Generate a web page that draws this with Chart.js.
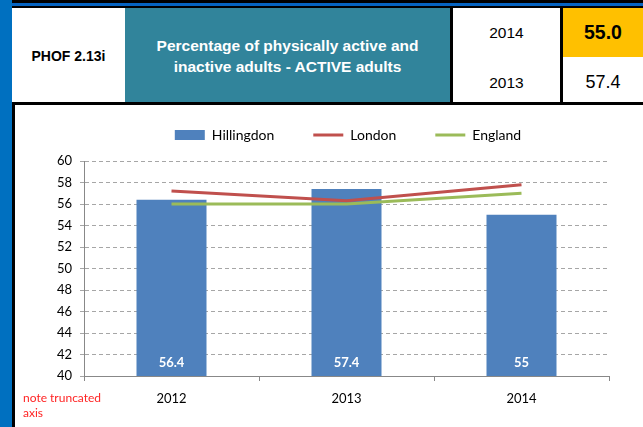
<!DOCTYPE html>
<html>
<head>
<meta charset="utf-8">
<script src="https://cdn.jsdelivr.net/npm/chart.js@4"></script>
<style>
  html, body { margin: 0; padding: 0; }
  body { width: 643px; height: 427px; position: relative; overflow: hidden; background: #fff; font-family: "Liberation Sans", Arial, sans-serif; }
  .abs { position: absolute; box-sizing: border-box; }
  .cell { display: flex; align-items: center; justify-content: center; text-align: center; }
</style>
</head>
<body>
<!-- page frame -->
<div class="abs" style="left:0;top:0;width:12px;height:427px;background:#0070C0"></div>
<div class="abs" style="left:12px;top:0;width:631px;height:3px;background:#000"></div>
<div class="abs" style="left:12px;top:3px;width:631px;height:3px;background:#0563C1"></div>
<div class="abs" style="left:12px;top:6px;width:631px;height:2px;background:#000"></div>

<!-- header row -->
<div class="abs cell" style="left:12px;top:8px;width:113px;height:95px;font-weight:bold;font-size:14px;color:#000">PHOF 2.13i</div>
<div class="abs cell" style="left:125px;top:8px;width:325px;height:94px;background:#31849B;color:#fff;font-weight:bold;font-size:15.5px;line-height:21px;padding-top:2px">Percentage of physically active and<br>inactive adults - ACTIVE adults</div>
<div class="abs" style="left:450px;top:8px;width:3px;height:94px;background:#000"></div>
<div class="abs cell" style="left:453px;top:8px;width:107px;height:49px;font-size:15.5px">2014</div>
<div class="abs cell" style="left:453px;top:60px;width:107px;height:45px;font-size:15.5px">2013</div>
<div class="abs" style="left:560px;top:8px;width:3px;height:94px;background:#000"></div>
<div class="abs cell" style="left:563px;top:8px;width:80px;height:49px;background:#FFC000;font-size:19.5px;font-weight:bold">55.0</div>
<div class="abs cell" style="left:563px;top:60px;width:80px;height:45px;font-size:18px">57.4</div>
<div class="abs" style="left:12px;top:102px;width:631px;height:3px;background:#000"></div>
<div class="abs" style="left:12px;top:102px;width:3px;height:325px;background:#000"></div>

<!-- chart -->
<div class="abs" style="left:15px;top:105px;width:628px;height:322px">
  <canvas id="chart" width="628" height="322"></canvas>
</div>
<div class="abs" style="left:23px;top:390px;font-family:Lato, sans-serif;font-size:12px;line-height:15px;color:#FF2424">note truncated<br>axis</div>

<script>
// ========== Data ==========

const years = ['2012', '2013', '2014'];
const hillingdon = [56.4, 57.4, 55];
const london = [57.2, 56.3, 57.8];
const england = [56.0, 56.0, 57.0];
const yMin = 40;
const yMax = 60;
const yStep = 2;

// ========== Plugins ==========

// white value labels near the foot of each bar
const barLabels = {
  id: 'barLabels',
  afterDatasetsDraw(chart) {
    const meta = chart.getDatasetMeta(0);
    const ctx = chart.ctx;
    ctx.save();
    ctx.fillStyle = '#fff';
    ctx.font = 'bold 13px Lato, sans-serif';
    ctx.textAlign = 'center';
    ctx.textBaseline = 'middle';
    meta.data.forEach((bar, i) => {
      ctx.fillText(String(hillingdon[i]), bar.x, chart.chartArea.bottom - 13);
    });
    ctx.restore();
  }
};

// legend padding is used both ways in Chart.js; keep the wide gaps between
// items but pull the block up and over like the Excel original
const legendPlacement = {
  id: 'legendPlacement',
  beforeLayout(chart) {
    const legend = chart.legend;
    if (legend._fitPatched) return;
    const fit = legend.fit;
    legend.fit = function () {
      fit.call(this);
      this.height = 56;
    };
    legend._fitPatched = true;
  },
  afterLayout(chart) {
    const legend = chart.legend;
    legend.top -= 16;
    legend.bottom -= 16;
    legend.left += 36;
    legend.right += 36;
  }
};

// ========== Chart ==========

const tickFont = { family: 'Lato, sans-serif', size: 13 };
const legendFont = { family: 'Lato, sans-serif', size: 14 };

new Chart(document.getElementById('chart').getContext('2d'), {
  type: 'bar',
  data: {
    labels: years,
    datasets: [{
      label: 'Hillingdon',
      data: hillingdon,
      backgroundColor: '#4F81BD',
      barPercentage: 0.4,
      categoryPercentage: 1,
      pointStyle: 'rect',
      order: 2,
    }, {
      label: 'London',
      type: 'line',
      data: london,
      borderColor: '#C0504D',
      backgroundColor: '#C0504D',
      borderWidth: 3,
      pointRadius: 0,
      pointStyle: 'line',
      order: 1,
    }, {
      label: 'England',
      type: 'line',
      data: england,
      borderColor: '#9BBB59',
      backgroundColor: '#9BBB59',
      borderWidth: 3,
      pointRadius: 0,
      pointStyle: 'line',
      order: 0,
    }],
  },
  options: {
    responsive: false,
    animation: false,
    layout: { padding: { left: 0, right: 34, top: 0, bottom: 11 } },
    scales: {
      x: {
        grid: { drawOnChartArea: false, drawTicks: true, tickLength: 5, color: '#888' },
        border: { display: true, color: '#888', width: 1 },
        ticks: { color: '#000', font: tickFont, padding: 10 },
        afterFit: (s) => { s.height = 40; },
      },
      y: {
        min: yMin,
        max: yMax,
        grid: { color: '#a6a6a6', tickLength: 4, drawTicks: true },
        border: { display: true, color: '#888', width: 1, dash: [4, 3] },
        ticks: { stepSize: yStep, color: '#000', font: tickFont, padding: 8 },
        afterFit: (s) => { s.width = 69; },
      },
    },
    plugins: {
      legend: {
        position: 'top',
        labels: {
          usePointStyle: true,
          pointStyleWidth: 30,
          boxHeight: 10,
          padding: 39,
          color: '#000',
          font: legendFont,
          sort: (a, b) => a.datasetIndex - b.datasetIndex,
        },
      },
      tooltip: { enabled: false },
    },
  },
  plugins: [barLabels, legendPlacement],
});
</script>
</body>
</html>
